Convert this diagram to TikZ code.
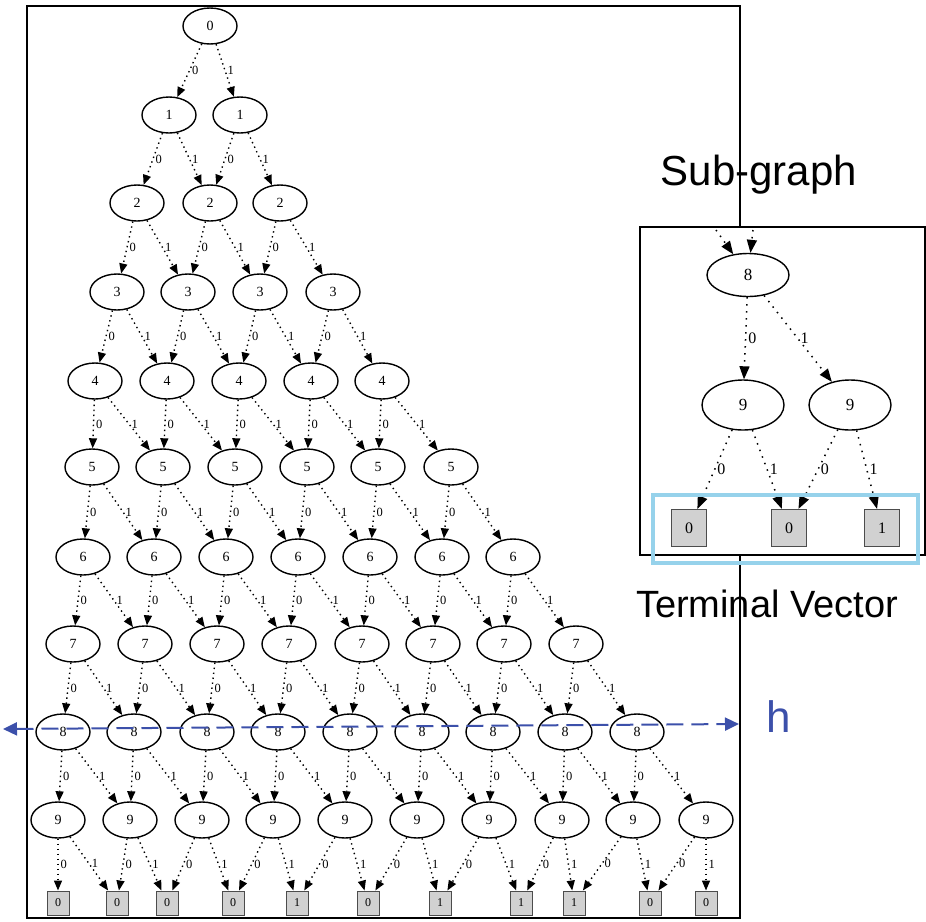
\documentclass[tikz,border=0pt]{standalone}
\usepackage{fontspec}
\setmainfont{Liberation Serif}
\newfontfamily\sansf{Liberation Sans}
\usetikzlibrary{arrows.meta,shapes.geometric}
\definecolor{hblue}{RGB}{60,80,170}
\definecolor{tvblue}{RGB}{150,210,235}
\begin{document}
\begin{tikzpicture}[x=1pt,y=-1pt,
  bn/.style={draw, line width=1.4pt, ellipse, minimum width=54pt, minimum height=36pt, inner sep=0pt, font=\fontsize{14}{14}\selectfont},
  tb/.style={draw=black!70, line width=1pt, fill=black!18, minimum width=22pt, minimum height=24pt, inner sep=0pt, font=\fontsize{12}{12}\selectfont},
  edge/.style={line width=1.4pt, dash pattern=on 1.4pt off 3.6pt, -{Triangle[length=10pt,width=8pt]}},
  lab/.style={font=\fontsize{12.5}{12.5}\selectfont, right, inner sep=2pt, midway},
  sbn/.style={draw, line width=1.4pt, ellipse, minimum width=82pt, inner sep=0pt, font=\fontsize{17}{17}\selectfont},
  stb/.style={draw=black!70, line width=1.2pt, fill=black!18, minimum width=35pt, minimum height=37pt, inner sep=0pt, font=\fontsize{16}{16}\selectfont},
  sedge/.style={line width=1.5pt, dash pattern=on 1.5pt off 5.5pt, -{Triangle[length=13pt,width=10pt]}},
  slab/.style={font=\fontsize{16}{16}\selectfont, right, inner sep=2pt, midway},
  bigtxt/.style={font=\sansf, inner sep=0pt, anchor=base}
]
\useasboundingbox (0,0) rectangle (926,921);
% main frame
\draw[line width=2pt] (27,6) rectangle (740,918);
% nodes
\foreach \x [count=\j from 0] in {210} \node[bn] (n-0-\j) at (\x,26) {0};
\foreach \x [count=\j from 0] in {169,240} \node[bn] (n-1-\j) at (\x,115) {1};
\foreach \x [count=\j from 0] in {137,210,280} \node[bn] (n-2-\j) at (\x,203) {2};
\foreach \x [count=\j from 0] in {117,188,260,333} \node[bn] (n-3-\j) at (\x,292) {3};
\foreach \x [count=\j from 0] in {95,167,239,311,382} \node[bn] (n-4-\j) at (\x,381) {4};
\foreach \x [count=\j from 0] in {92,163,235,307,378,451} \node[bn] (n-5-\j) at (\x,467) {5};
\foreach \x [count=\j from 0] in {83,154,226,298,370,442,513} \node[bn] (n-6-\j) at (\x,557) {6};
\foreach \x [count=\j from 0] in {73,145,217,289,362,433,504,576} \node[bn] (n-7-\j) at (\x,644) {7};
\foreach \x [count=\j from 0] in {63,134,207,278,350,422,493,565,637} \node[bn] (n-8-\j) at (\x,732) {8};
\foreach \x [count=\j from 0] in {58,130,202,273,345,417,489,562,633,706} \node[bn] (n-9-\j) at (\x,820) {9};
\foreach \x/\v [count=\j from 0] in {58/0,117/0,167/0,233/0,297/1,368/0,440/1,521/1,574/1,650/0,706/0}
  \node[tb] (t-\j) at (\x,903) {\v};
% edges
\foreach \k in {0,...,8} {
  \pgfmathtruncatemacro\kk{\k+1}
  \foreach \j in {0,...,\k} {
    \pgfmathtruncatemacro\jj{\j+1}
    \draw[edge] (n-\k-\j) -- node[lab]{0} (n-\kk-\j);
    \draw[edge] (n-\k-\j) -- node[lab]{1} (n-\kk-\jj);
  }
}
\foreach \j in {0,...,9} {
  \pgfmathtruncatemacro\jj{\j+1}
  \draw[edge] (n-9-\j) -- node[lab]{0} (t-\j);
  \draw[edge] (n-9-\j) -- node[lab]{1} (t-\jj);
}
% sub-graph
\draw[line width=2pt, fill=white] (640,227) rectangle (925,555);
\node[sbn, minimum height=43pt] (s8) at (748,275) {8};
\node[sbn, minimum height=50pt] (s9a) at (743,405) {9};
\node[sbn, minimum height=50pt] (s9b) at (850,405) {9};
\node[stb] (st0) at (689,528) {0};
\node[stb] (st1) at (789,528) {0};
\node[stb] (st2) at (882,528) {1};
\coordinate (sin1) at (716,230);
\coordinate (sin2) at (753,230);
\draw[sedge] (sin1) -- (s8);
\draw[sedge] (sin2) -- (s8);
\draw[sedge] (s8) -- node[slab]{0} (s9a);
\draw[sedge] (s8) -- node[slab]{1} (s9b);
\draw[sedge] (s9a) -- node[slab]{0} (st0);
\draw[sedge] (s9a) -- node[slab]{1} (st1);
\draw[sedge] (s9b) -- node[slab]{0} (st1);
\draw[sedge] (s9b) -- node[slab]{1} (st2);
\draw[tvblue, line width=4pt] (653,495) rectangle (918,563);
% dashed h line
\coordinate (hl) at (3,729);
\coordinate (hr) at (739,724);
\draw[hblue, line width=2pt, dash pattern=on 17pt off 8pt, {Triangle[length=14pt,width=13pt]}-{Triangle[length=14pt,width=13pt]}] (hl) -- (hr);
% texts
\node[bigtxt, font=\sansf\fontsize{42}{42}\selectfont] (tsub) at (759,185) {Sub-graph};
\node[bigtxt, font=\sansf\fontsize{38}{38}\selectfont] (tterm) at (767,617) {Terminal Vector};
\node[bigtxt, font=\sansf\fontsize{44}{44}\selectfont, text=hblue] (th) at (779,732) {h};
\end{tikzpicture}
\end{document}
